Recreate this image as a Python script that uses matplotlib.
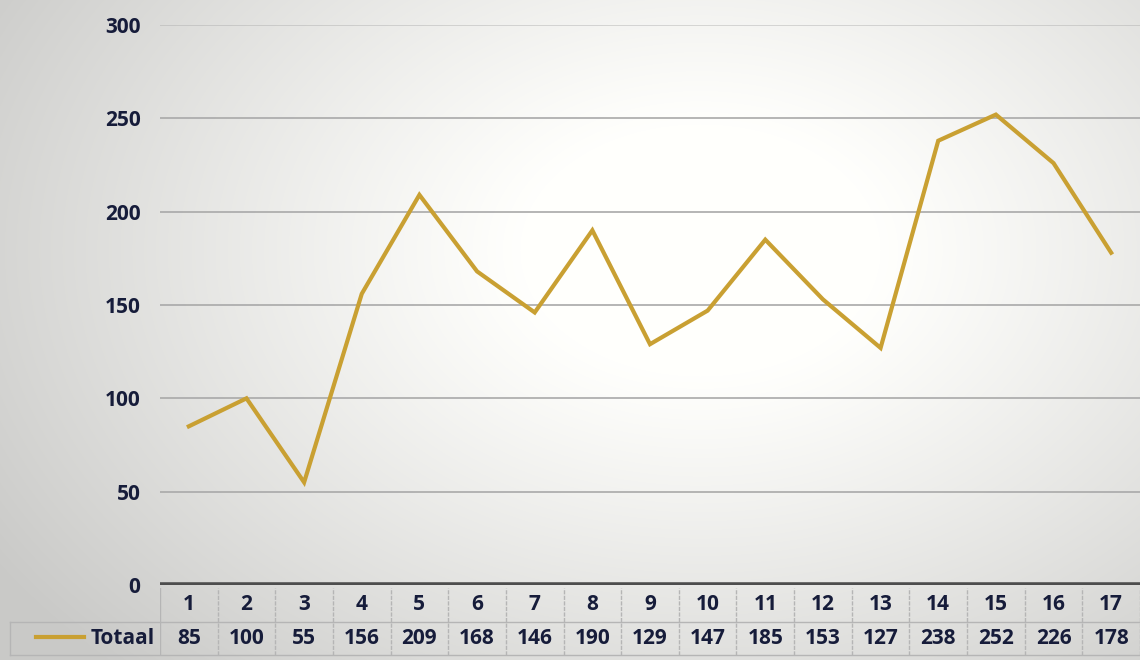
import numpy as np
import matplotlib
matplotlib.use("Agg")
import matplotlib.pyplot as plt

# data
periods = list(range(1, 18))
totaal = [85, 100, 55, 156, 209, 168, 146, 190, 129, 147, 185, 153, 127, 238, 252, 226, 178]
yticks = [0, 50, 100, 150, 200, 250, 300]
series_name = "Totaal"

gold = "#c9a032"
ink = "#161c3a"
grid_col = "#a9a9a9"
cell_col = "#b5b5b5"

plt.rcParams["font.family"] = ["Open Sans", "DejaVu Sans"]

W, H = 1140, 660
fig = plt.figure(figsize=(W / 100, H / 100), dpi=100)

# photo-like background: white in the middle, grey towards the edges
bg = fig.add_axes([0, 0, 1, 1])
xx, yy = np.meshgrid(np.arange(W), np.arange(H))
d = np.sqrt(((xx - 700) / 600.0) ** 2 + ((yy - 250) / 420.0) ** 2)
shade = 1.0 - 0.19 * np.clip(d - 0.3, 0, None) ** 1.1
shade = np.clip(shade, 0.79, 1.0)
bg.imshow(np.dstack([shade, shade, shade * 0.99]), aspect="auto",
          extent=[0, W, H, 0])
bg.set_axis_off()

# main plot area
x0, x1 = 160 / W, 1.0
y_top, y_zero = 25, 585
ax = fig.add_axes([x0, 1 - y_zero / H, x1 - x0, (y_zero - y_top) / H])
ax.patch.set_alpha(0)
ax.set_xlim(0.5, len(periods) + 0.5)
ax.set_ylim(0, 300)
for v in yticks[1:]:
    ax.axhline(v, color=grid_col, lw=1.2, alpha=0.5 if v == 300 else 1.0, zorder=1)
ax.axhline(0, color="#4d4d4d", lw=4, zorder=3)
ax.plot(periods, totaal, color=gold, lw=3, solid_joinstyle="miter", zorder=4)
ax.set_yticks(yticks)
ax.set_yticklabels([str(v) for v in yticks], fontsize=15, fontweight="bold", color=ink)
ax.tick_params(axis="y", length=0, pad=14)
ax.set_xticks([])
for s in ax.spines.values():
    s.set_visible(False)

# data table below the plot
t_top, t_mid, t_bot = 588, 620, 655
tab = fig.add_axes([x0, 1 - t_bot / H, x1 - x0, (t_bot - t_top) / H])
tab.patch.set_alpha(0)
tab.set_xlim(0.5, len(periods) + 0.5)
tab.set_ylim(0, 2)
tab.set_axis_off()
col_w = (W - 160) / len(periods)
left_x = 0.5 - (160 - 10) / col_w

for i, (p, v) in enumerate(zip(periods, totaal)):
    tab.text(p, 1.5, str(p), ha="center", va="center", fontsize=15,
             fontweight="bold", color=ink)
    tab.text(p, 0.5, str(v), ha="center", va="center", fontsize=15,
             fontweight="bold", color=ink)
    tab.plot([p + 0.5, p + 0.5], [0, 2], color=cell_col, lw=1, ls=(0, (3, 1)))
tab.plot([0.5, 0.5], [0, 2], color=cell_col, lw=1)
tab.plot([left_x, len(periods) + 0.5], [1, 1], color=cell_col, lw=1, clip_on=False)
tab.plot([left_x, len(periods) + 0.5], [0, 0], color=cell_col, lw=1, clip_on=False)
tab.plot([left_x, left_x], [0, 1], color=cell_col, lw=1, clip_on=False)

# legend key + series name in the left cell
key_x0 = left_x + 26 / col_w
tab.plot([key_x0, key_x0 + 48 / col_w], [0.55, 0.55], color=gold, lw=3, clip_on=False)
tab.text(0.5 - 5 / col_w, 0.5, series_name, ha="right", va="center", fontsize=15,
         fontweight="bold", color=ink)

fig.savefig("out.png", dpi=100)
